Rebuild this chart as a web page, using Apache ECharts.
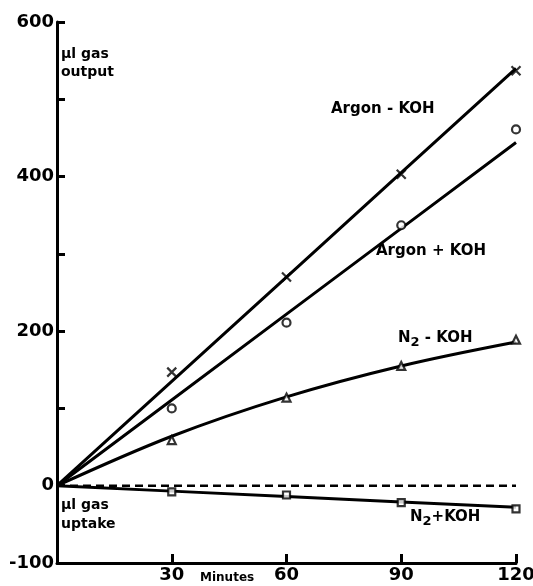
<!DOCTYPE html>
<html><head><meta charset="utf-8">
<script src="https://cdn.jsdelivr.net/npm/echarts@6/dist/echarts.min.js"></script>
<style>html,body{margin:0;padding:0;background:#fff}#c{width:533px;height:586px}</style>
</head><body><div id="c"></div>
<script>
const minutes = [30, 60, 90, 120];
const argonMinusKOH = [147, 270, 403, 537];
const argonPlusKOH = [100, 211, 337, 461];
const n2MinusKOH = [59, 114, 155, 189];
const n2PlusKOH = [-8, -12, -22, -30];
// fitted curves drawn in the figure
const fitX = [0, 30, 60, 90, 120];
const argonMinusFit = [0, 135, 270, 405, 540];
const argonPlusFit = [0, 111, 222, 333, 444];
const n2MinusFit = [0, 64, 115, 155, 186];
const n2PlusFit = [0, -7, -14, -21, -28];
const yLabels = [600, 400, 200, 0, -100];

const pair = (xs, ys) => xs.map((x, i) => [x, ys[i]]);
const F = '"DejaVu Sans", Arial, sans-serif';
const chart = echarts.init(document.getElementById('c'));
const lineS = (d, smooth) => ({type: 'line', data: pair(fitX, d), showSymbol: false, smooth: smooth ? 0.35 : false,
  lineStyle: {color: '#000', width: 3}, silent: true, z: 2});
const pts = (d, sym, size) => ({type: 'scatter', data: pair(minutes, d), symbol: sym, symbolSize: size,
  itemStyle: {color: '#fff', borderColor: '#000', borderWidth: 2.2}, z: 3});
const rich = {a: {font: 'bold 15px ' + F, fill: '#000'}, s: {font: 'bold 13px ' + F, fill: '#000', padding: [9, 0, 0, 0]}};
chart.setOption({
  animation: false,
  backgroundColor: '#fff',
  grid: {left: 57, right: 17, top: 22, bottom: 23, containLabel: false, outerBoundsMode: 'none'},
  xAxis: {type: 'value', min: 0, max: 120, interval: 30,
    axisLine: {onZero: false, lineStyle: {color: '#000', width: 3}},
    axisTick: {inside: true, length: 9, lineStyle: {color: '#000', width: 3}},
    axisLabel: {color: '#000', fontFamily: F, fontWeight: 'bold', fontSize: 18, margin: 3,
      formatter: v => v === 0 ? '' : String(v)},
    splitLine: {show: false}},
  yAxis: {type: 'value', min: -100, max: 600, interval: 100,
    axisLine: {show: true, onZero: false, lineStyle: {color: '#000', width: 3}},
    axisTick: {show: true, inside: true, length: 8, lineStyle: {color: '#000', width: 3}},
    axisLabel: {color: '#000', fontFamily: F, fontWeight: 'bold', fontSize: 18, margin: 3,
      formatter: v => yLabels.includes(v) ? String(v) : ''},
    splitLine: {show: false}},
  graphic: [
    {type: 'text', left: 61, top: 45, style: {text: 'µl gas\noutput', font: 'bold 14px ' + F, fill: '#000', lineHeight: 18}},
    {type: 'text', left: 61, top: 496, style: {text: 'µl gas\nuptake', font: 'bold 14px ' + F, fill: '#000', lineHeight: 19}},
    {type: 'text', left: 331, top: 102, style: {text: 'Argon - KOH', font: 'bold 15px ' + F, fill: '#000'}},
    {type: 'text', left: 376, top: 244, style: {text: 'Argon + KOH', font: 'bold 15px ' + F, fill: '#000'}},
    {type: 'text', left: 398, top: 331, style: {rich, text: '{a|N}{s|2}{a| - KOH}'}},
    {type: 'text', left: 410, top: 510, style: {rich, text: '{a|N}{s|2}{a|+KOH}'}},
    {type: 'text', left: 200, top: 572, style: {text: 'Minutes', font: 'bold 12px ' + F, fill: '#000'}}
  ],
  series: [
    lineS(argonMinusFit), lineS(argonPlusFit), lineS(n2MinusFit, true), lineS(n2PlusFit),
    {type: 'line', data: [[0, 0], [120, 0]], showSymbol: false, lineStyle: {color: '#000', width: 2.5, type: [8, 5]}, z: 1},
    pts(argonMinusKOH, 'path://M0,0L10,10M10,0L0,10', 9),
    pts(argonPlusKOH, 'circle', 8),
    pts(n2MinusKOH, 'triangle', 8),
    pts(n2PlusKOH, 'rect', 7)
  ]
});
</script></body></html>
